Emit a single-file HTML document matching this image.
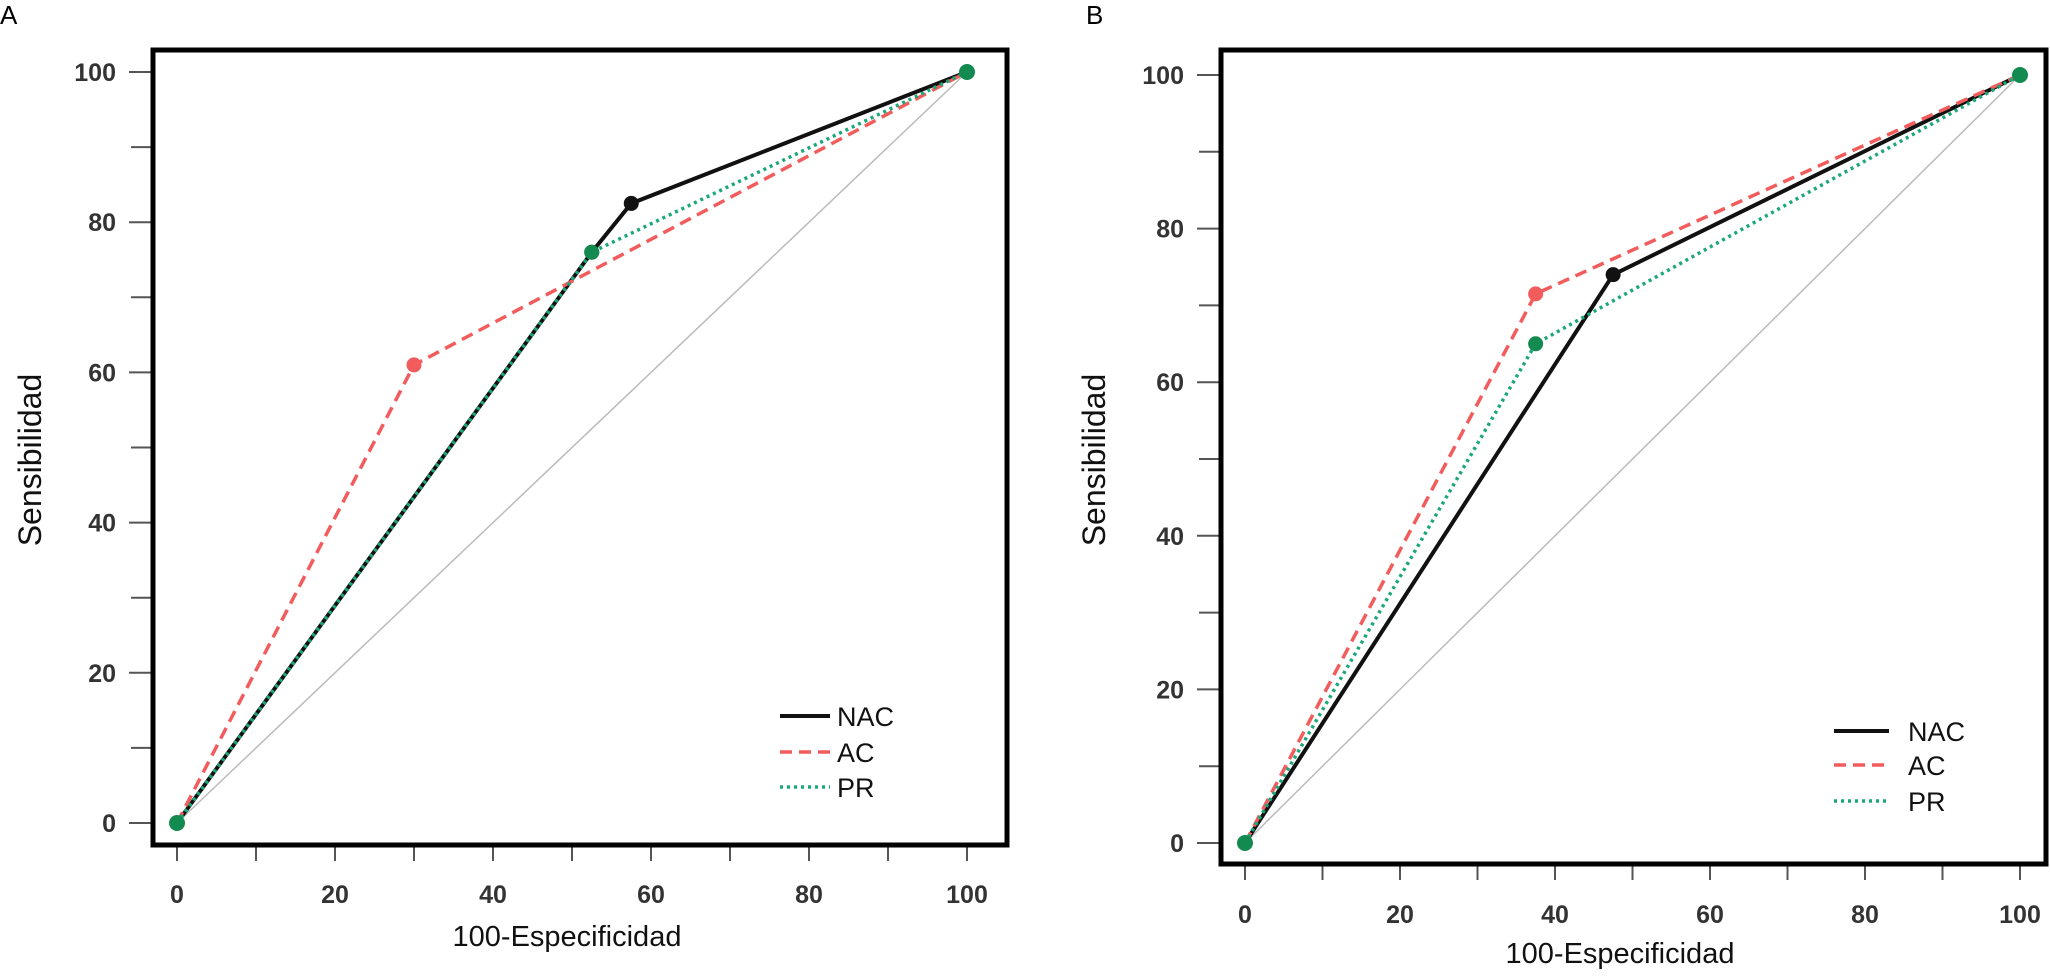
<!DOCTYPE html>
<html><head><meta charset="utf-8"><style>
body{margin:0;background:#fff;width:2050px;height:976px;overflow:hidden}
svg{display:block}
text{font-family:"Liberation Sans",sans-serif}
</style></head><body>
<svg id="c" width="2050" height="976"></svg>
<script>
const seriesNames = ["NAC","AC","PR"];
const ticks = [0,20,40,60,80,100];
const aNACx = [0,52.5,57.5,100], aNACy = [0,76,82.5,100];
const aACx = [0,30,100], aACy = [0,61,100];
const aPRx = [0,52.5,100], aPRy = [0,76,100];
const bNACx = [0,47.5,100], bNACy = [0,74,100];
const bACx = [0,37.5,100], bACy = [0,71.5,100];
const bPRx = [0,37.5,100], bPRy = [0,65,100];

const NS="http://www.w3.org/2000/svg";
const svg=document.getElementById('c');
function mk(t,a,p){const e=document.createElementNS(NS,t);for(const k in a)e.setAttribute(k,a[k]);(p||svg).appendChild(e);return e;}

const panels=[
 {id:'a',label:'A',lx:0,ly:24,fl:153,fr:1007,ft:50,fb:845,x0:177,x1:967,y0:823,y1:72,tl:116,tickY:903,titleX:567,titleY:946,ytx:30,yty:460,
  legLine:[780,830],legText:837,legY:[716,752,787],
  data:[[aNACx,aNACy],[aACx,aACy],[aPRx,aPRy]]},
 {id:'b',label:'B',lx:1086,ly:24,fl:1221,fr:2046,ft:50,fb:864,x0:1245,x1:2020,y0:843,y1:75,tl:1184,tickY:923,titleX:1620,titleY:963,ytx:1094,yty:460,
  legLine:[1834,1889],legText:1908,legY:[731,765,801],
  data:[[bNACx,bNACy],[bACx,bACy],[bPRx,bPRy]]}
];
const styles=[{c:'#111',w:4,d:''},{c:'#f25c5c',w:3.5,d:'12,7'},{c:'#1aa878',w:3.5,d:'3,4'}];
const dotCol=['#111','#f25c5c','#138a4f'];

panels.forEach(p=>{
 const g=mk('g',{});
 
 
 const sx=v=>p.x0+(p.x1-p.x0)*v/100, sy=v=>p.y0+(p.y1-p.y0)*v/100;
 const lab=mk('text',{x:p.lx,y:p.ly,'font-size':26,fill:'#000'},g);lab.textContent=p.label;
 
 for(let v=0;v<=100;v+=10){
  const maj=v%20===0;
  const t1=mk('line',{x1:p.fl-(maj?24:22),x2:p.fl-2,y1:sy(v),y2:sy(v),stroke:'#555','stroke-width':2},g);
  
  const t2=mk('line',{x1:sx(v),x2:sx(v),y1:p.fb+2,y2:p.fb+16,stroke:'#555','stroke-width':2},g);
  
 }
 ticks.forEach(v=>{
  const ty=mk('text',{x:p.tl,y:sy(v)+9,'font-size':25,'text-anchor':'end',fill:'#333','font-weight':'bold'},g);ty.textContent=v;
  
  const tx=mk('text',{x:sx(v),y:p.tickY,'font-size':25,'text-anchor':'middle',fill:'#333','font-weight':'bold'},g);tx.textContent=v;
  
 });
 const xt=mk('text',{x:p.titleX,y:p.titleY,'font-size':29,'text-anchor':'middle',fill:'#111'},g);xt.textContent='100-Especificidad';
 
 const yt=mk('text',{x:p.ytx,y:p.yty,'font-size':32,'text-anchor':'middle',fill:'#111',transform:`rotate(-90 ${p.ytx} ${p.yty})`,'dominant-baseline':'central'},g);yt.textContent='Sensibilidad';
 
 const dg=mk('line',{x1:sx(0),y1:sy(0),x2:sx(100),y2:sy(100),stroke:'#bbb','stroke-width':1.5},g);
 
 p.data.forEach((s,i)=>{
  const pts=s[0].map((x,k)=>sx(x)+','+sy(s[1][k])).join(' ');
  const pl=mk('polyline',{points:pts,fill:'none',stroke:styles[i].c,'stroke-width':styles[i].w,'stroke-dasharray':styles[i].d},g);
  
  
 });
 p.data.forEach((s,i)=>{
  s[0].forEach((x,k)=>{
   const c=mk('circle',{cx:sx(x),cy:sy(s[1][k]),r:7.5,fill:dotCol[i]},g);
   
   
  });
 });
 [0,100].forEach(v=>{const c=mk('circle',{cx:sx(v),cy:sy(v),r:8,fill:'#138a4f'},g);
  });
 const fr=mk('rect',{x:p.fl,y:p.ft,width:p.fr-p.fl,height:p.fb-p.ft,fill:'none',stroke:'#000','stroke-width':5},g);
 
 seriesNames.forEach((n,i)=>{
  const ll=mk('line',{x1:p.legLine[0],x2:p.legLine[1],y1:p.legY[i],y2:p.legY[i],stroke:styles[i].c,'stroke-width':styles[i].w,'stroke-dasharray':styles[i].d},g);
  
  const lt=mk('text',{x:p.legText,y:p.legY[i]+10,'font-size':27,fill:'#111'},g);lt.textContent=n;
  
 });
});
</script>
</body></html>
